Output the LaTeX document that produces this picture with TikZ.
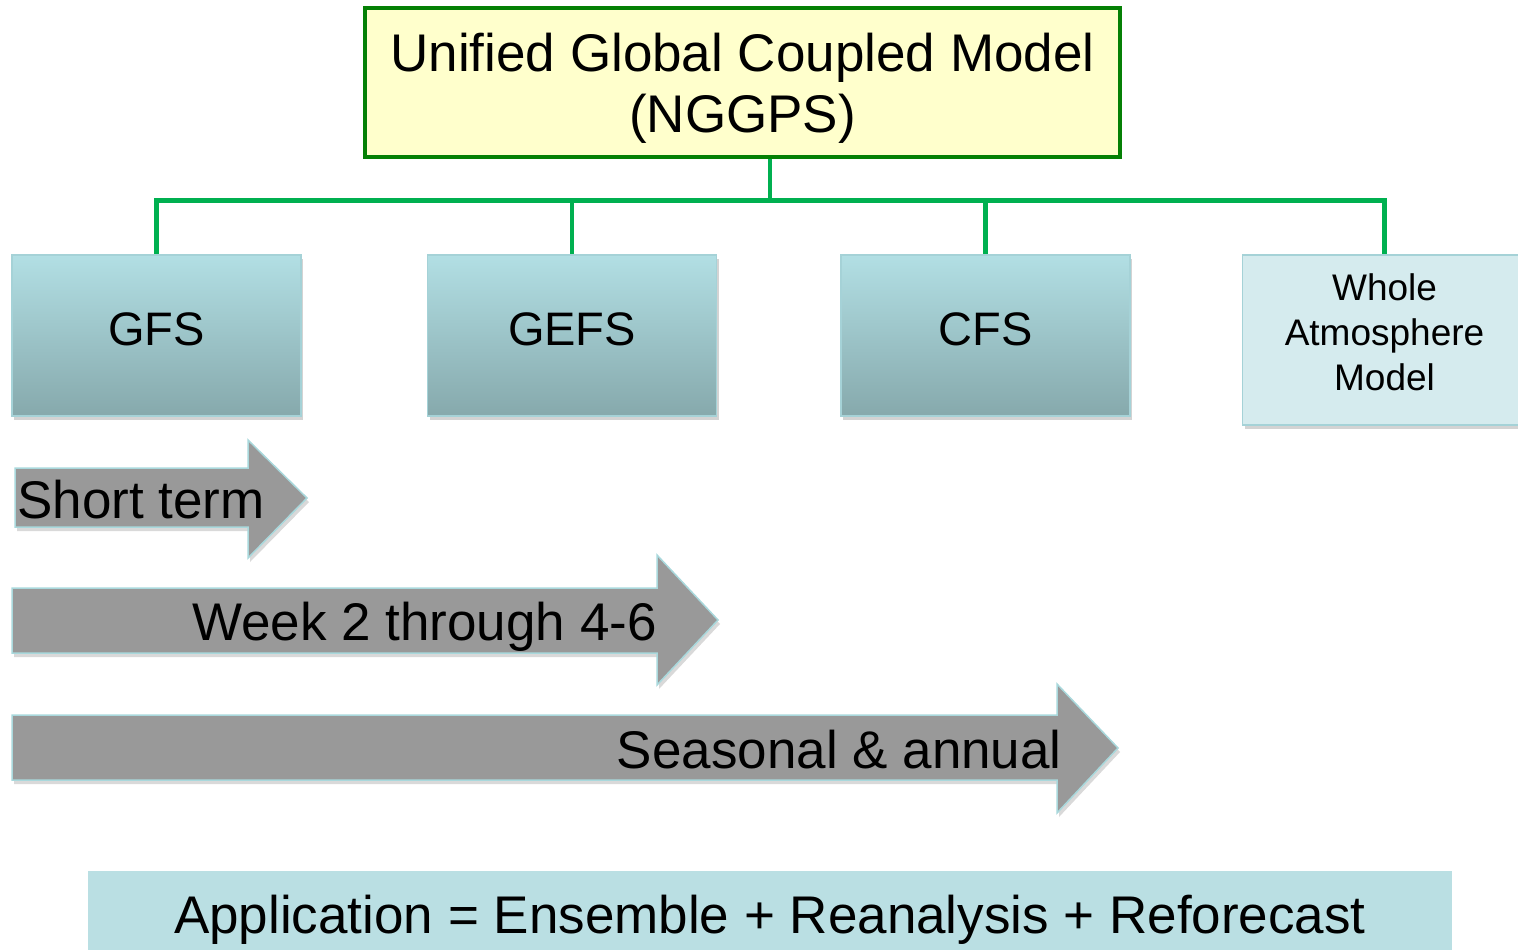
\documentclass[tikz,border=0pt]{standalone}
\usepackage{fontspec}
\setmainfont{Liberation Sans}
\usepackage{xcolor}
\usepackage{tikz}
\usetikzlibrary{positioning, calc, shadows}

\definecolor{topfill}{HTML}{FFFFCC}
\definecolor{topedge}{HTML}{058005}
\definecolor{linkgreen}{HTML}{00B050}
\definecolor{boxtop}{HTML}{B2DFE4}
\definecolor{boxbottom}{HTML}{86A9AC}
\definecolor{boxedge}{HTML}{A5D2D7}
\definecolor{wamfill}{HTML}{D5EBEE}
\definecolor{spanfill}{HTML}{999999}
\definecolor{spanedge}{HTML}{A9D8DC}
\definecolor{appfill}{HTML}{BADFE3}

\begin{document}
\begin{tikzpicture}[
    x=1pt, y=-1pt,
    topbox/.style={
        rectangle, draw=topedge, line width=4.5pt, fill=topfill,
        minimum width=755pt, minimum height=149pt, inner sep=0pt,
        align=center, text depth=0pt,
        font=\fontsize{53}{61}\selectfont
    },
    model/.style={
        rectangle, draw=boxedge, line width=1.5pt,
        top color=boxtop, bottom color=boxbottom,
        minimum width=289pt, minimum height=161pt, inner sep=0pt,
        text height=34pt, text depth=15pt,
        font=\fontsize{47}{56}\selectfont,
        drop shadow={shadow xshift=2pt, shadow yshift=-4pt, opacity=0.35}
    },
    wam/.style={
        rectangle, draw=boxedge, line width=1.5pt, fill=wamfill,
        minimum width=284pt, minimum height=170pt, inner sep=0pt,
        align=center, text depth=16pt,
        font=\fontsize{37}{45}\selectfont,
        drop shadow={shadow xshift=2pt, shadow yshift=-4pt, opacity=0.35}
    },
    link/.style={draw=linkgreen, line width=4.5pt},
    span/.style={
        fill=spanfill, draw=spanedge, line width=1.5pt,
        drop shadow={shadow xshift=2pt, shadow yshift=-4pt, opacity=0.3}
    },
    spantext/.style={inner sep=0pt, font=\fontsize{53}{61}\selectfont},
    appbar/.style={
        rectangle, fill=appfill,
        minimum width=1364pt, minimum height=79pt, inner sep=0pt,
        text height=45pt, text depth=0pt,
        font=\fontsize{53}{61}\selectfont
    }
]
\useasboundingbox (0,0) rectangle (1518,950);

% 1. Coupled model on top
\node[topbox] (ugcm) at (742.5,82.5) {Unified Global Coupled Model\\(NGGPS)};

% 2. Row of model systems
\node[model] (gfs) at (156.5,335.5) {GFS};
\node[model, right=125pt of gfs] (gefs) {GEFS};
\node[model, right=123pt of gefs] (cfs) {CFS};
\node[wam, right=111pt of cfs.north east, anchor=north west] (wam) {Whole\\Atmosphere\\Model};

% 3. Tree links, dropping from the top box then branching
\draw[link] ([xshift=27.5pt]ugcm.south) -- ++(0,41) -| (gfs.north);
\draw[link] ([xshift=27.5pt]ugcm.south) -- ++(0,41) -| (gefs.north);
\draw[link] ([xshift=27.5pt]ugcm.south) -- ++(0,41) -| (cfs.north);
\draw[link] ([xshift=27.5pt]ugcm.south) -- ++(0,41) -| (wam.north);

% 4. Forecast ranges as block arrows
\draw[span] (15,468) -- (248,468) -- (248,440) -- (307,498) -- (248,558) -- (248,527) -- (15,527) -- cycle;
\node[spantext, anchor=base west] (short) at (17,518) {Short term};

\draw[span] (12,588) -- (657,588) -- (657,555) -- (718,620) -- (657,685) -- (657,653) -- (12,653) -- cycle;
\node[spantext, anchor=base east] (week) at (657,640) {Week 2 through 4-6};

\draw[span] (12,715) -- (1057,715) -- (1057,684) -- (1118,748) -- (1057,813) -- (1057,780) -- (12,780) -- cycle;
\node[spantext, anchor=base east] (seasonal) at (1062,768) {Seasonal \& annual};

% 5. Application bar
\node[appbar] (app) at (770,910.5) {Application = Ensemble + Reanalysis + Reforecast};

\end{tikzpicture}
\end{document}
